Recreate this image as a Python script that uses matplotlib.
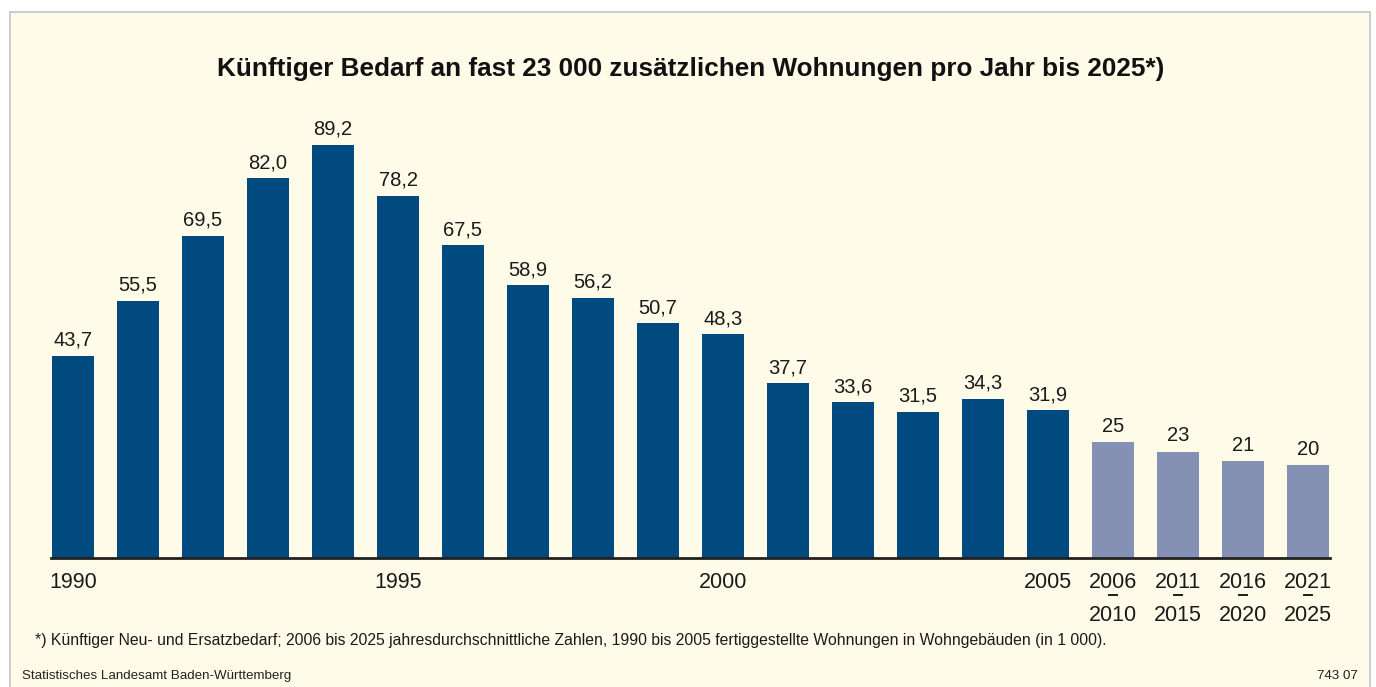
import matplotlib
matplotlib.use("Agg")
import matplotlib.pyplot as plt
from matplotlib.patches import Rectangle
from matplotlib.lines import Line2D

plt.rcParams['font.family'] = ['Liberation Sans', 'DejaVu Sans']

# Completed dwellings 1990-2005 and projected yearly need 2006-2025 (in 1 000)
years_hist = [1990, 1991, 1992, 1993, 1994, 1995, 1996, 1997, 1998, 1999,
              2000, 2001, 2002, 2003, 2004, 2005]
values_hist = [43.7, 55.5, 69.5, 82.0, 89.2, 78.2, 67.5, 58.9, 56.2, 50.7,
               48.3, 37.7, 33.6, 31.5, 34.3, 31.9]
periods_proj = [("2006", "2010"), ("2011", "2015"), ("2016", "2020"), ("2021", "2025")]
values_proj = [25, 23, 21, 20]
labels_hist = ["43,7", "55,5", "69,5", "82,0", "89,2", "78,2", "67,5", "58,9", "56,2",
               "50,7", "48,3", "37,7", "33,6", "31,5", "34,3", "31,9"]
labels_proj = ["25", "23", "21", "20"]
year_ticks = {1990: "1990", 1995: "1995", 2000: "2000", 2005: "2005"}

title = "Künftiger Bedarf an fast 23 000 zusätzlichen Wohnungen pro Jahr bis 2025*)"
footnote = ("*) Künftiger Neu- und Ersatzbedarf; 2006 bis 2025 jahresdurchschnittliche Zahlen, "
            "1990 bis 2005 fertiggestellte Wohnungen in Wohngebäuden (in 1 000).")
source = "Statistisches Landesamt Baden-Württemberg"
code = "743 07"

dark = "#004a80"
light = "#8591b4"
bg = "#fefbe9"
ink = "#1a1a1a"

W, H = 1376, 687
fig = plt.figure(figsize=(W / 100, H / 100), dpi=100)
fig.patch.set_facecolor("white")

# framed panel
fig.add_artist(Rectangle((10 / W, -0.02), 1360 / W, (H - 12) / H + 0.02,
                         transform=fig.transFigure, facecolor=bg, edgecolor="#c4c4c4",
                         linewidth=1.2, zorder=0))

px_per_unit = 4.63
ymax = 100
ax_left, ax_right = 51, 1330
baseline = 558
ax = fig.add_axes([ax_left / W, (H - baseline) / H, (ax_right - ax_left) / W,
                   ymax * px_per_unit / H])
ax.set_facecolor("none")

values = values_hist + values_proj
labels = labels_hist + labels_proj
colors = [dark] * len(values_hist) + [light] * len(values_proj)
x = list(range(len(values)))
width = 42 / 65
ax.bar(x, values, width=width, color=colors, zorder=2)
half = 22 / 65
ax.set_xlim(-half, len(values) - 1 + half)
ax.set_ylim(0, ymax)

for xi, v, lab in zip(x, values, labels):
    ax.annotate(lab, (xi, v), xytext=(0, 4.5), textcoords="offset points",
                ha="center", va="bottom", fontsize=14.5, color=ink)

for s in ["top", "right", "left"]:
    ax.spines[s].set_visible(False)
ax.spines["bottom"].set_linewidth(2)
ax.spines["bottom"].set_color("#222222")
ax.set_yticks([])
ax.set_xticks([])

# year ticks
for xi, yr in enumerate(years_hist):
    if yr in year_ticks:
        ax.annotate(year_ticks[yr], (xi, 0), xytext=(0, -10), textcoords="offset points",
                    ha="center", va="top", fontsize=15.5, color=ink)
for k, (a, b) in enumerate(periods_proj):
    xi = len(years_hist) + k
    ax.annotate(a, (xi, 0), xytext=(0, -10), textcoords="offset points",
                ha="center", va="top", fontsize=15.5, color=ink)
    ax.annotate(b, (xi, 0), xytext=(0, -33.5), textcoords="offset points",
                ha="center", va="top", fontsize=15.5, color=ink)
    # short dash joining the two years of a period
    xd = ax.transData.transform((xi, 0))[0]
    fig.add_artist(Line2D([(xd - 4) / W, (xd + 4) / W], [1 - 595 / H, 1 - 595 / H],
                          transform=fig.transFigure, color=ink, linewidth=1.4))

fig.text(691 / W, 1 - 69 / H, title, ha="center", va="center", fontsize=18.8,
         fontweight="bold", color="#111111")
fig.text(35 / W, 1 - 640 / H, footnote, ha="left", va="center", fontsize=11.3, color=ink)
fig.text(22 / W, 1 - 676 / H, source, ha="left", va="center", fontsize=9.6, color="#222222")
fig.text(1358 / W, 1 - 676 / H, code, ha="right", va="center", fontsize=9.6, color="#222222")

fig.savefig("out.png", dpi=100, facecolor=fig.get_facecolor())
